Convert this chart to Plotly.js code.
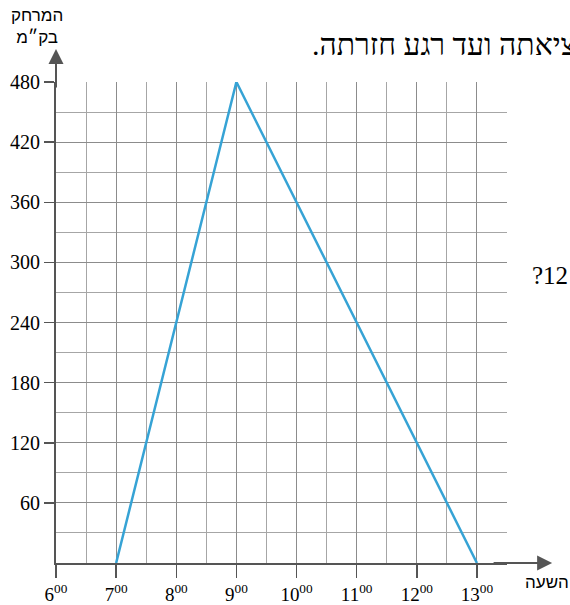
<!DOCTYPE html>
<html>
<head>
<meta charset="utf-8">
<script src="https://cdn.plot.ly/plotly-3.0.1.min.js"></script>
<style>
  html, body { margin: 0; padding: 0; background: #fff; }
  #chart { width: 570px; height: 605px; }
</style>
</head>
<body>
<div id="chart"></div>
<script>
// the trip: hour of day -> distance from home (km)
const hours = [7, 9, 13];
const distance = [0, 480, 0];

const hourTicks = [6, 7, 8, 9, 10, 11, 12, 13];
const hourLabels = hourTicks.map(h => h + '<sup>00</sup>');
const distTicks = [60, 120, 180, 240, 300, 360, 420, 480];
const halfHours = [6.5, 7.5, 8.5, 9.5, 10.5, 11.5, 12.5, 13.5];
const halfDist = [30, 90, 150, 210, 270, 330, 390, 450];

const axisCol = '#555555';
const serif = 'Liberation Serif, Times New Roman, serif';
const sans = 'Liberation Sans, Arial, sans-serif';
const RLM = '\u200F';

let traces = [{
    x: hours,
    y: distance,
    mode: 'lines',
    line: { color: '#36a3d5', width: 2.5 },
    hoverinfo: 'skip',
    cliponaxis: false
}];

let layout = {
    width: 570,
    height: 605,
    margin: { l: 56, r: 63, t: 82, b: 42 },
    paper_bgcolor: '#ffffff',
    plot_bgcolor: '#ffffff',
    showlegend: false,
    xaxis: {
        range: [6, 13.5],
        tickmode: 'array',
        tickvals: hourTicks,
        ticktext: hourLabels,
        ticks: 'outside',
        ticklen: 13,
        tickwidth: 1.5,
        tickcolor: axisCol,
        tickfont: { family: serif, size: 19, color: '#000' },
        showgrid: true,
        gridcolor: '#8c8c8c',
        gridwidth: 1,
        minor: { tickmode: 'array', tickvals: halfHours, showgrid: true, gridcolor: '#a6a6a6', gridwidth: 1, ticks: '' },
        showline: true,
        linecolor: axisCol,
        linewidth: 2,
        zeroline: false,
        fixedrange: true
    },
    yaxis: {
        range: [0, 480],
        tickmode: 'array',
        tickvals: distTicks,
        ticks: 'outside',
        ticklen: 10,
        tickwidth: 1.5,
        tickcolor: axisCol,
        tickfont: { family: serif, size: 20, color: '#000' },
        showgrid: true,
        gridcolor: '#8c8c8c',
        gridwidth: 1,
        minor: { tickmode: 'array', tickvals: halfDist, showgrid: true, gridcolor: '#a6a6a6', gridwidth: 1, ticks: '' },
        showline: true,
        linecolor: axisCol,
        linewidth: 2,
        zeroline: false,
        fixedrange: true
    },
    annotations: [
        // axis arrows
        {
            xref: 'x', yref: 'paper', x: 6, y: 1.0686,
            ax: 0, ay: 40, showarrow: true,
            arrowhead: 2, arrowsize: 1.5, arrowwidth: 2, arrowcolor: axisCol, text: ''
        },
        {
            xref: 'paper', yref: 'y', x: 1.1, y: 0,
            ax: -60, ay: 0, showarrow: true,
            arrowhead: 2, arrowsize: 1.5, arrowwidth: 2, arrowcolor: axisCol, text: ''
        },
        // axis titles
        {
            xref: 'paper', yref: 'paper', x: -0.042, y: 1.115,
            xanchor: 'center', yanchor: 'middle', showarrow: false,
            text: 'המרחק<br>בק״מ', align: 'center',
            font: { family: sans, size: 17, color: '#000' }
        },
        {
            xref: 'paper', yref: 'paper', x: 1.088, y: -0.04,
            xanchor: 'center', yanchor: 'middle', showarrow: false,
            text: 'השעה',
            font: { family: sans, size: 17, color: '#000' }
        },
        // text cut from the surrounding page
        {
            xref: 'paper', yref: 'paper', x: 1.158, y: 1.078,
            xanchor: 'right', yanchor: 'middle', showarrow: false,
            text: RLM + 'ציאתה ועד רגע חזרתה.' + RLM,
            font: { family: serif, size: 30, color: '#000' }
        },
        {
            xref: 'paper', yref: 'paper', x: 1.14, y: 0.598,
            xanchor: 'right', yanchor: 'middle', showarrow: false,
            text: '?12',
            font: { family: serif, size: 25, color: '#000' }
        }
    ]
};

Plotly.newPlot('chart', traces, layout, { displayModeBar: false, staticPlot: true });
</script>
</body>
</html>
